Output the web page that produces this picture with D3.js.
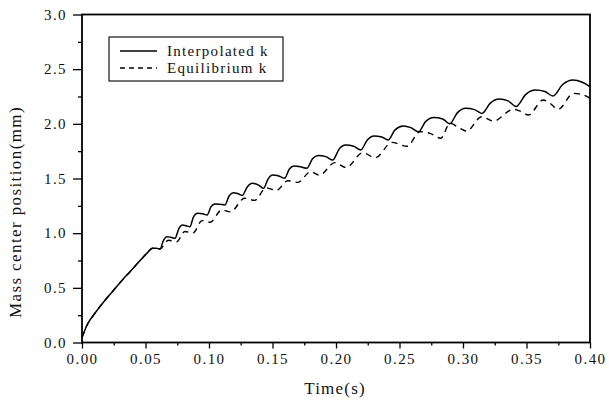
<!DOCTYPE html>
<html><head><meta charset="utf-8">
<script src="https://cdn.jsdelivr.net/npm/d3@7/dist/d3.min.js"></script>
<style>body{margin:0;background:#fff}</style>
</head><body>
<svg id="chart" width="609" height="403"></svg>
<script>
// ---- data ----
const xTicks = [0.00, 0.05, 0.10, 0.15, 0.20, 0.25, 0.30, 0.35, 0.40];
const xMinorTicks = [0.025, 0.075, 0.125, 0.175, 0.225, 0.275, 0.325, 0.375];
const yTicks = [0.0, 0.5, 1.0, 1.5, 2.0, 2.5, 3.0];
const yMinorTicks = [0.25, 0.75, 1.25, 1.75, 2.25, 2.75];
const seriesNames = ["Interpolated k", "Equilibrium k"];
const xLabel = "Time(s)";
const yLabel = "Mass center position(mm)";

const interpT = [0.000,0.004,0.010,0.018,0.025,0.032,0.038,0.045,0.051,0.0555,0.0585,0.0614,0.064,0.0667,0.070,0.0732,0.0762,0.079,0.082,0.0850,0.0878,0.091,0.095,0.0985,0.1015,0.1045,0.1085,0.1125,0.1158,0.119,0.1225,0.1262,0.1300,0.1340,0.1390,0.1430,0.1465,0.1500,0.1545,0.1595,0.1632,0.1670,0.1720,0.1770,0.1815,0.1860,0.1920,0.1975,0.2025,0.2075,0.2140,0.2195,0.2245,0.2300,0.2360,0.2410,0.2465,0.2530,0.2590,0.2650,0.2705,0.2770,0.2840,0.2895,0.2955,0.3020,0.3090,0.3150,0.3215,0.3285,0.3355,0.3417,0.3495,0.3570,0.3645,0.3709,0.3785,0.3866,0.3940,0.4000];
const interpV = [0.045,0.16,0.265,0.385,0.48,0.575,0.65,0.74,0.815,0.862,0.862,0.855,0.93,0.968,0.962,0.953,1.04,1.075,1.068,1.059,1.15,1.182,1.178,1.166,1.24,1.267,1.265,1.258,1.34,1.370,1.363,1.345,1.42,1.456,1.44,1.41,1.495,1.532,1.525,1.502,1.585,1.614,1.607,1.593,1.68,1.710,1.70,1.669,1.77,1.806,1.795,1.761,1.85,1.888,1.88,1.852,1.945,1.98,1.965,1.928,2.02,2.058,2.045,2.00,2.10,2.142,2.13,2.095,2.19,2.227,2.21,2.159,2.27,2.309,2.295,2.254,2.36,2.401,2.38,2.34];

const equilT = [0.000,0.004,0.010,0.018,0.025,0.032,0.038,0.045,0.051,0.0555,0.0585,0.0614,0.0680,0.0745,0.0810,0.0875,0.0945,0.1010,0.1100,0.1170,0.1280,0.1360,0.1450,0.1530,0.1620,0.1700,0.1800,0.1870,0.1990,0.2080,0.2210,0.2310,0.2440,0.2560,0.2661,0.2740,0.2825,0.2898,0.2976,0.3029,0.3147,0.3240,0.3396,0.3462,0.3514,0.3632,0.3685,0.3750,0.3869,0.3947,0.4000];
const equilV = [0.045,0.16,0.265,0.385,0.48,0.575,0.65,0.74,0.815,0.862,0.862,0.855,0.935,0.922,1.015,1.002,1.115,1.100,1.212,1.195,1.320,1.300,1.415,1.390,1.480,1.465,1.562,1.530,1.645,1.600,1.735,1.690,1.830,1.795,1.928,1.913,1.868,2.005,1.959,1.934,2.065,2.025,2.133,2.111,2.081,2.218,2.188,2.133,2.279,2.264,2.234];

// ---- layout ----
const svg = d3.select("#chart");
const font = "'Liberation Serif', 'DejaVu Serif', serif";
const x = d3.scaleLinear().domain([0, 0.4]).range([82, 590]);
const y = d3.scaleLinear().domain([0, 3]).range([342.5, 14.5]);

// axes
const gx = svg.append("g").attr("transform", `translate(0,${y(0)})`)
  .call(d3.axisBottom(x).tickValues(xTicks).tickSize(6).tickPadding(5).tickFormat(d3.format(".2f")));
const gxm = svg.append("g").attr("transform", `translate(0,${y(0)})`)
  .call(d3.axisBottom(x).tickValues(xMinorTicks).tickSize(3).tickFormat(""));
const gy = svg.append("g").attr("transform", `translate(${x(0)},0)`)
  .call(d3.axisLeft(y).tickValues(yTicks).tickSize(9).tickPadding(6).tickFormat(d3.format(".1f")));
const gym = svg.append("g").attr("transform", `translate(${x(0)},0)`)
  .call(d3.axisLeft(y).tickValues(yMinorTicks).tickSize(4).tickFormat(""));
[gx, gxm, gy, gym].forEach(g => {
  g.select(".domain").remove();
  g.selectAll(".tick line").attr("stroke", "#000").attr("stroke-width", 1.3);
  g.selectAll("text").attr("fill", "#111").style("font-family", font)
    .style("font-size", "15px").style("letter-spacing", "1.4px");
});

// frame
svg.append("rect").attr("x", x(0)).attr("y", y(3))
  .attr("width", x(0.4) - x(0)).attr("height", y(0) - y(3))
  .attr("fill", "none").attr("stroke", "#000").attr("stroke-width", 1.8);

// lines
const line = d3.line().x(d => x(d[0])).y(d => y(d[1])).curve(d3.curveMonotoneX);
const interpData = interpT.map((t, i) => [t, interpV[i]]);
const equilData = equilT.map((t, i) => [t, equilV[i]]);
svg.append("path").datum(interpData).attr("d", line)
  .attr("fill", "none").attr("stroke", "#000").attr("stroke-width", 1.5);
svg.append("path").datum(equilData).attr("d", line)
  .attr("fill", "none").attr("stroke", "#000").attr("stroke-width", 1.4)
  .attr("stroke-dasharray", "6,5");

// axis labels
svg.append("text").attr("x", 335).attr("y", 394).attr("text-anchor", "middle")
  .style("font-family", font).style("font-size", "17px").style("letter-spacing", "1.2px")
  .attr("fill", "#111").text(xLabel);
svg.append("text").attr("transform", "translate(21,212) rotate(-90)").attr("text-anchor", "middle")
  .style("font-family", font).style("font-size", "17px").style("letter-spacing", "1.4px")
  .attr("fill", "#111").text(yLabel);

// legend
const lg = svg.append("g");
lg.append("rect").attr("x", 109).attr("y", 37).attr("width", 174).attr("height", 44)
  .attr("fill", "#fff").attr("stroke", "#000").attr("stroke-width", 1.1);
const dashes = [null, "5,4"];
seriesNames.forEach((name, i) => {
  const yy = 51 + i * 17;
  lg.append("line").attr("x1", 120).attr("x2", 157).attr("y1", yy).attr("y2", yy)
    .attr("stroke", "#000").attr("stroke-width", 1.3).attr("stroke-dasharray", dashes[i]);
  lg.append("text").attr("x", 167).attr("y", yy + 5)
    .style("font-family", font).style("font-size", "15px").style("letter-spacing", "1.3px")
    .attr("fill", "#111").text(name);
});
</script>
</body></html>
